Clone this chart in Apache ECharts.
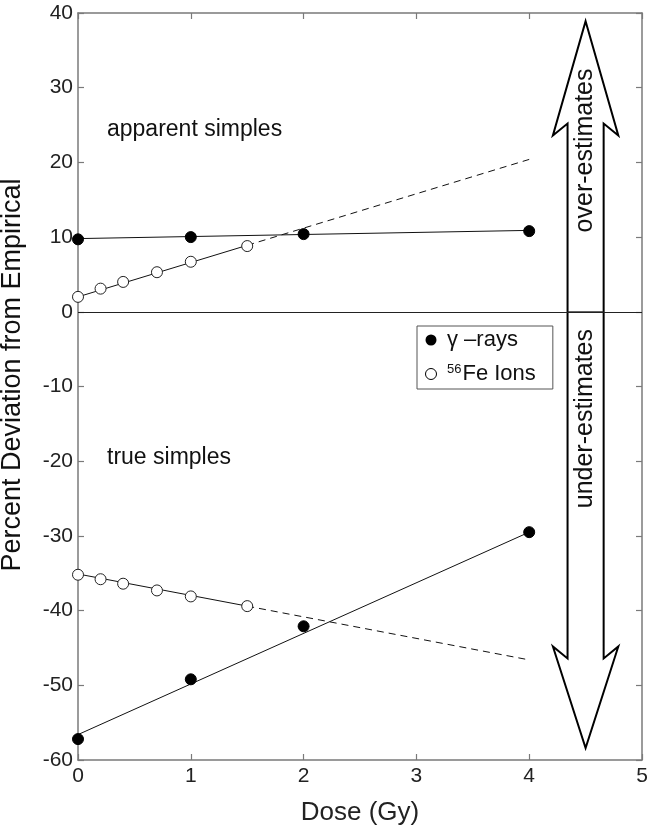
<!DOCTYPE html>
<html>
<head>
<meta charset="utf-8">
<script src="https://cdn.jsdelivr.net/npm/echarts@6/dist/echarts.min.js"></script>
<style>
html,body{margin:0;padding:0;background:#fff;}
#chart{width:653px;height:828px;}
</style>
</head>
<body>
<div id="chart"></div>
<script>
// ---- data ----
var gammaDose = [0, 1, 2, 4];
var gammaApparent = [9.7, 10.0, 10.4, 10.8];
var gammaTrue = [-57.2, -49.2, -42.1, -29.5];
var feDose = [0, 0.2, 0.4, 0.7, 1.0, 1.5];
var feApparent = [2.0, 3.1, 4.0, 5.3, 6.7, 8.8];
var feTrue = [-35.2, -35.8, -36.4, -37.3, -38.1, -39.4];
// fit lines: [dose, value]
var gammaApparentFit = [[0, 9.8], [4, 10.9]];
var gammaTrueFit = [[0, -56.6], [4, -29.5]];
var feApparentFitSolid = [[0, 2.0], [1.5, 8.9]];
var feApparentFitDashed = [[1.5, 8.9], [4, 20.4]];
var feTrueFitSolid = [[0, -35.1], [1.5, -39.4]];
var feTrueFitDashed = [[1.5, -39.4], [4, -46.6]];
var xTicks = [0, 1, 2, 3, 4, 5];
var yTicks = [-60, -50, -40, -30, -20, -10, 0, 10, 20, 30, 40];
// double arrow (data coords)
var arrowX = 4.5, arrowShaftHalf = 0.16, arrowHeadHalf = 0.29;
var arrowTop = 38.9, arrowTopBarb = 23.6, arrowTopShaft = 25.2;
var arrowBottom = -58.4, arrowBottomBarb = -44.8, arrowBottomShaft = -46.4;
var overLabelY = 21.6, underLabelY = -14.3;

function pairs(xs, ys){ return xs.map(function(x,i){ return [x, ys[i]]; }); }

var FONT = 'Liberation Sans, Arial, sans-serif';
var axisGray = '#7a7a7a';

var chart = echarts.init(document.getElementById('chart'), null, {renderer:'canvas'});

var lineBase = {type:'line', symbol:'none', silent:true, z:2,
  lineStyle:{color:'#111', width:1}};

var option = {
  backgroundColor:'#fff',
  animation:false,
  textStyle:{fontFamily:FONT},
  grid:{left:78, right:11, top:13, bottom:68, containLabel:false, outerBoundsMode:'none'},
  xAxis:[{
    type:'value', min:0, max:5, interval:1, position:'bottom',
    axisLine:{show:true, onZero:false, lineStyle:{color:axisGray, width:1.5}},
    axisTick:{show:true, inside:true, length:6, lineStyle:{color:axisGray, width:1.2}},
    axisLabel:{color:'#222', fontSize:21, fontFamily:FONT, margin:6,
      formatter:function(v){ return xTicks.indexOf(v)>=0 ? String(v) : ''; }},
    splitLine:{show:false},
    name:'Dose (Gy)', nameLocation:'middle', nameGap:40,
    nameTextStyle:{color:'#222', fontSize:26, fontFamily:FONT}
  },{
    type:'value', min:0, max:5, interval:1, position:'top',
    axisLine:{show:true, onZero:false, lineStyle:{color:axisGray, width:1.5}},
    axisTick:{show:true, inside:true, length:6, lineStyle:{color:axisGray, width:1.2}},
    axisLabel:{show:false}, splitLine:{show:false}
  }],
  yAxis:[{
    type:'value', min:-60, max:40, interval:10, position:'left',
    axisLine:{show:true, onZero:false, lineStyle:{color:axisGray, width:1.5}},
    axisTick:{show:true, inside:true, length:6, lineStyle:{color:axisGray, width:1.2}},
    axisLabel:{color:'#222', fontSize:21, fontFamily:FONT, margin:5,
      formatter:function(v){ return yTicks.indexOf(v)>=0 ? String(v) : ''; }},
    splitLine:{show:false}
  },{
    type:'value', min:-60, max:40, interval:10, position:'right',
    axisLine:{show:true, onZero:false, lineStyle:{color:axisGray, width:1.5}},
    axisTick:{show:true, inside:true, length:6, lineStyle:{color:axisGray, width:1.2}},
    axisLabel:{show:false}, splitLine:{show:false}
  }],
  legend:{
    left:417, top:326,
    orient:'vertical', itemGap:12, padding:[3,17,4,8],
    borderColor:'#555', borderWidth:1, backgroundColor:'#fff',
    itemWidth:22, itemHeight:11, symbolKeepAspect:true,
    textStyle:{fontSize:22, color:'#111', fontFamily:FONT,
      rich:{sup:{fontSize:13, verticalAlign:'top', padding:[0,1,9,0], color:'#111', fontFamily:FONT},
            big:{fontSize:22, color:'#111', fontFamily:FONT}}},
    formatter:function(n){
      if(n==='gamma') return '{big|γ –rays}';
      return '{sup|56}{big|Fe Ions}';
    },
    data:[{name:'gamma', icon:'circle', itemStyle:{color:'#000', borderColor:'#000'}},
          {name:'fe', icon:'circle', itemStyle:{color:'#fff', borderColor:'#000', borderWidth:1}}]
  },
  series:[
    Object.assign({}, lineBase, {name:'fitGA', data:gammaApparentFit,
      markLine:{silent:true, symbol:'none', label:{show:false},
        lineStyle:{color:'#222', width:1, type:'solid'}, data:[{yAxis:0}]}}),
    Object.assign({}, lineBase, {name:'fitGT', data:gammaTrueFit}),
    Object.assign({}, lineBase, {name:'fitFAs', data:feApparentFitSolid}),
    Object.assign({}, lineBase, {name:'fitFAd', data:feApparentFitDashed,
      lineStyle:{color:'#111', width:1, type:[7,5]}}),
    Object.assign({}, lineBase, {name:'fitFTs', data:feTrueFitSolid}),
    Object.assign({}, lineBase, {name:'fitFTd', data:feTrueFitDashed,
      lineStyle:{color:'#111', width:1, type:[7,5]}}),
    {name:'gamma', type:'scatter', symbol:'circle', symbolSize:11, z:5,
      itemStyle:{color:'#000', borderColor:'#000', opacity:1},
      data:pairs(gammaDose, gammaApparent).concat(pairs(gammaDose, gammaTrue))},
    {name:'fe', type:'scatter', symbol:'circle', symbolSize:11, z:5,
      itemStyle:{color:'#fff', borderColor:'#222', borderWidth:1, opacity:1},
      data:pairs(feDose, feApparent).concat(pairs(feDose, feTrue))},
    {name:'arrow', type:'custom', silent:true, z:3,
      data:[[arrowX, 0]],
      renderItem:function(params, api){
        function c(x,y){ return api.coord([x,y]); }
        var xl = arrowX - arrowShaftHalf, xr = arrowX + arrowShaftHalf;
        var hl = arrowX - arrowHeadHalf, hr = arrowX + arrowHeadHalf;
        var pts = [
          c(arrowX, arrowTop), c(hr, arrowTopBarb), c(xr, arrowTopShaft),
          c(xr, arrowBottomShaft), c(hr, arrowBottomBarb), c(arrowX, arrowBottom),
          c(hl, arrowBottomBarb), c(xl, arrowBottomShaft), c(xl, arrowTopShaft),
          c(hl, arrowTopBarb)
        ];
        var cOver = c(arrowX, overLabelY), cUnder = c(arrowX, underLabelY);
        var z0l = c(xl, 0), z0r = c(xr, 0);
        return {type:'group', children:[
          {type:'polygon', shape:{points:pts},
            style:{fill:'#fff', stroke:'#000', lineWidth:2}},
          {type:'line', shape:{x1:z0l[0], y1:z0l[1], x2:z0r[0], y2:z0r[1]},
            style:{stroke:'#222', lineWidth:1}},
          {type:'text', x:cOver[0], y:cOver[1], rotation:Math.PI/2,
            style:{text:'over-estimates', fontSize:25, fontFamily:FONT, fill:'#111',
              align:'center', verticalAlign:'middle'}},
          {type:'text', x:cUnder[0], y:cUnder[1], rotation:Math.PI/2,
            style:{text:'under-estimates', fontSize:25, fontFamily:FONT, fill:'#111',
              align:'center', verticalAlign:'middle'}}
        ]};
      }}
  ],
  graphic:[
    {type:'text', x:107, y:130, style:{text:'apparent simples', fontSize:23, fontFamily:FONT, fill:'#111', verticalAlign:'middle'}},
    {type:'text', x:107, y:458, style:{text:'true simples', fontSize:23, fontFamily:FONT, fill:'#111', verticalAlign:'middle'}},
    {type:'text', x:13, y:375, rotation:Math.PI/2,
      style:{text:'Percent Deviation from Empirical', fontSize:27, fontFamily:FONT, fill:'#111',
        align:'center', verticalAlign:'middle'}}
  ]
};
chart.setOption(option);
</script>
</body>
</html>
